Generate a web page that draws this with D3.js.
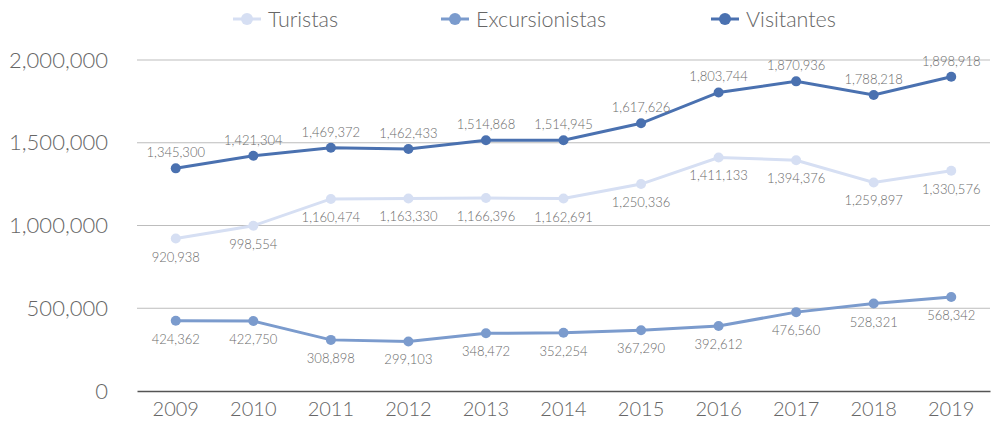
<!DOCTYPE html>
<html>
<head>
<style>
body { margin: 0; background: #fff; font-family: Lato, "Open Sans", sans-serif; }
.tick text { fill: #666; font-family: Lato, sans-serif; font-weight: 300; }
.grid line { stroke: #bdbdbd; }
.lbl { fill: #6b6b6b; font-size: 13px; font-weight: 300; }
</style>
</head>
<script src="https://d3js.org/d3.v7.min.js"></script>
<body>
<div id="chart"></div>
<script>
var years = ["2009","2010","2011","2012","2013","2014","2015","2016","2017","2018","2019"];
var turistas = [920938, 998554, 1160474, 1163330, 1166396, 1162691, 1250336, 1411133, 1394376, 1259897, 1330576];
var excursionistas = [424362, 422750, 308898, 299103, 348472, 352254, 367290, 392612, 476560, 528321, 568342];
var visitantes = [1345300, 1421304, 1469372, 1462433, 1514868, 1514945, 1617626, 1803744, 1870936, 1788218, 1898918];
var yTicks = [0, 500000, 1000000, 1500000, 2000000];

var series = [
  {name: "Turistas", values: turistas, color: "#d6dff3", pos: "below"},
  {name: "Excursionistas", values: excursionistas, color: "#7b9bcd", pos: "below"},
  {name: "Visitantes", values: visitantes, color: "#4a71b0", pos: "above"}
];

var width = 991, height = 423,
    margin = {top: 60, right: 1, bottom: 32, left: 137};

var svg = d3.select("#chart").append("svg")
  .attr("width", width).attr("height", height);

var x = d3.scaleBand().domain(years).range([margin.left, width - margin.right]);
var y = d3.scaleLinear().domain([0, 2000000]).range([height - margin.bottom, margin.top]);
var fmt = d3.format(",");

// gridlines
svg.append("g").attr("class", "grid")
  .selectAll("line").data(yTicks.slice(1)).enter().append("line")
  .attr("x1", margin.left).attr("x2", width - margin.right)
  .attr("y1", d => y(d)).attr("y2", d => y(d));

// y axis
var yAxis = svg.append("g")
  .attr("transform", `translate(${margin.left},0)`)
  .call(d3.axisLeft(y).tickValues(yTicks).tickFormat(fmt).tickSize(0).tickPadding(29));
yAxis.select(".domain").remove();
yAxis.selectAll("text").style("font-size", "22px");

// x axis
var xAxis = svg.append("g")
  .attr("transform", `translate(0,${y(0)})`)
  .call(d3.axisBottom(x).tickSize(0).tickPadding(11).tickSizeOuter(0));
xAxis.select(".domain").attr("stroke", "#555").attr("stroke-width", 1.3);
xAxis.selectAll("text").style("font-size", "20px");

var line = d3.line().x((d, i) => x(years[i]) + x.bandwidth() / 2).y(d => y(d));

series.forEach(function(s) {
  var g = svg.append("g");
  g.append("path").datum(s.values)
    .attr("fill", "none").attr("stroke", s.color).attr("stroke-width", 3)
    .attr("d", line);
  g.selectAll("circle").data(s.values).enter().append("circle")
    .attr("cx", (d, i) => x(years[i]) + x.bandwidth() / 2)
    .attr("cy", d => y(d)).attr("r", 5).attr("fill", s.color);
  g.selectAll("text").data(s.values).enter().append("text")
    .attr("class", "lbl")
    .attr("text-anchor", "middle")
    .attr("x", (d, i) => x(years[i]) + x.bandwidth() / 2)
    .attr("y", d => s.pos === "above" ? y(d) - 11 : y(d) + 23)
    .text(d => fmt(d));
});

// legend
var legendX = [247, 455, 725];
var legend = svg.append("g").selectAll("g").data(series).enter().append("g")
  .attr("transform", (d, i) => `translate(${legendX[i]},19)`);
legend.append("line").attr("x1", -14).attr("x2", 14)
  .attr("stroke", d => d.color).attr("stroke-width", 3);
legend.append("circle").attr("r", 6).attr("fill", d => d.color);
legend.append("text").attr("x", 21).attr("dy", "0.35em")
  .style("font-size", "21.5px").style("font-weight", 300).attr("fill", "#666")
  .text(d => d.name);
</script>
</body>
</html>
